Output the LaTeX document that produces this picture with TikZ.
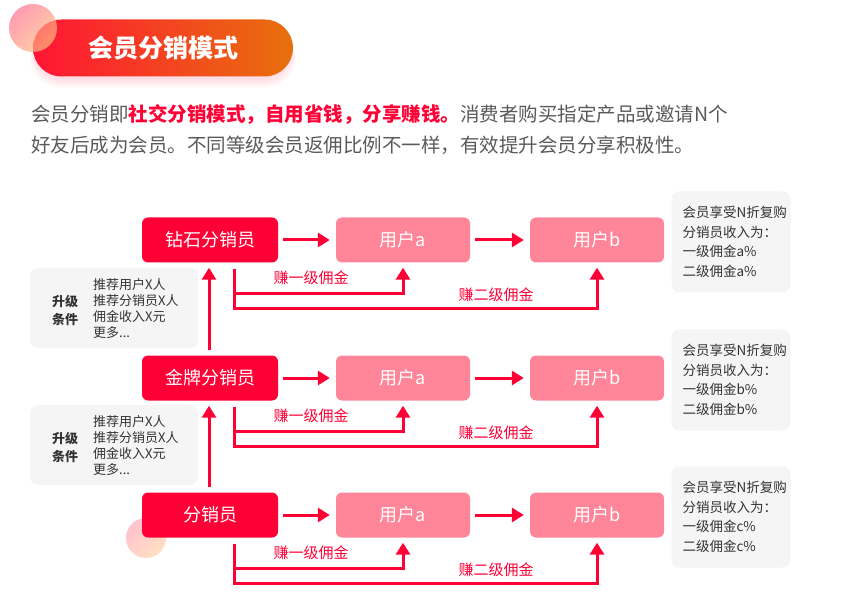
\documentclass[tikz,border=0pt]{standalone}
\usepackage{fontspec}
\setmainfont{Noto Sans CJK SC}
\usetikzlibrary{arrows.meta,positioning}
\definecolor{zred}{HTML}{FF0036}
\definecolor{zpink}{HTML}{FF8599}
\definecolor{ztitle}{HTML}{FF1535}
\definecolor{zorange}{HTML}{E8700C}
\definecolor{zgray}{HTML}{F5F5F5}
\definecolor{ztext}{HTML}{5A5A5A}
\definecolor{zdark}{HTML}{333333}
\newcommand{\fs}[2]{\fontsize{#1}{#2}\selectfont}

\begin{document}
\begin{tikzpicture}[x=1pt,y=-1pt,
    lead/.style={fill=zred, rounded corners=6pt, minimum width=136pt, minimum height=45pt, text=white, font=\fs{18}{20}},
    user/.style={lead, fill=zpink, minimum width=134pt},
    flow/.style={zred, line width=3pt, -{Triangle[length=12pt,width=14pt]}},
    earn/.style={text=zred, font=\fs{15}{17}},
    rulebox/.style={fill=zgray, rounded corners=8pt, minimum width=168pt, minimum height=80pt},
    gainbox/.style={fill=zgray, rounded corners=8pt, minimum width=119pt, minimum height=101pt},
    note/.style={text=zdark, align=left, inner sep=0pt}]
    \useasboundingbox (0,0) rectangle (848,601);
    % Title
    \foreach \g in {1,...,6}
        \fill[zred, opacity=0.025, rounded corners=30pt] (36-\g,26+\g) rectangle (290+\g,78+1.6*\g);
    \node[rounded corners=28.5pt, minimum width=260pt, minimum height=57pt, inner sep=0pt,
        left color=ztitle, right color=zorange, text=white, font=\bfseries\fs{25}{27}] (title) at (163,48) {会员分销模式};
    \shade[left color=zred!55, right color=orange!50, shading angle=45, opacity=0.7] (33,28) circle (24pt);
    % Intro text
    \node[anchor=west, inner sep=0pt, text=ztext, font=\fs{19.5}{22}] (p1) at (31,115)
        {会员分销即\textcolor{zred}{\bfseries 社交分销模式，自用省钱，分享赚钱。}消费者购买指定产品或邀请N个};
    \node[anchor=west, inner sep=0pt, text=ztext, font=\fs{19.5}{22}] (p2) at (31,145)
        {好友后成为会员。不同等级会员返佣比例不一样，有效提升会员分享积极性。};
    \shade[left color=zred!30, right color=orange!30, shading angle=45, opacity=0.8] (146,538) circle (20pt);
    % Three levels
    \foreach \r/\y/\name/\p in {1/240/钻石分销员/a, 2/378/金牌分销员/b, 3/515/分销员/c} {
        \node[lead] (m\r) at (210,\y) {\name};
        \node[user] (ua\r) at (403,\y) {用户a};
        \node[user] (ub\r) at (597,\y) {用户b};
        \draw[flow] ([xshift=5pt]m\r.east) -- ([xshift=-6pt]ua\r.west);
        \draw[flow] ([xshift=5pt]ua\r.east) -- ([xshift=-6pt]ub\r.west);
        \draw[flow] ([shift={(24pt,-6pt)}]m\r.south) |- ([yshift=-31pt]ua\r.south) -- ([yshift=-5pt]ua\r.south);
        \draw[flow] ([shift={(24pt,-6pt)}]m\r.south) |- ([yshift=-46pt]ub\r.south) -- ([yshift=-5pt]ub\r.south);
        \node[earn] (e\r) at (311,\y+38) {赚一级佣金};
        \node[earn] (f\r) at (496,\y+55) {赚二级佣金};
        \node[gainbox] (g\r) at (731,\y+2) {};
        \node[note, anchor=west, font=\fs{13.5}{19.5}] (n\r) at ([xshift=11pt]g\r.west)
            {会员享受N折复购\\分销员收入为：\\一级佣金\p\%\\二级佣金\p\%};
    }
    % Upgrade conditions
    \foreach \r/\s/\y in {1/2/308, 2/3/445} {
        \node[rulebox] (c\r) at (114,\y) {};
        \node[note, align=center, font=\bfseries\fs{13}{18}] (k\r) at (65,\y+2) {升级\\条件};
        \node[note, anchor=west, font=\fs{13}{16}] (l\r) at (93,\y+1) {推荐用户X人\\推荐分销员X人\\佣金收入X元\\更多...};
        \draw[flow] ([xshift=-1pt,yshift=5pt]m\s.north) -- ([xshift=-1pt,yshift=-5pt]m\r.south);
    }
\end{tikzpicture}
\end{document}
